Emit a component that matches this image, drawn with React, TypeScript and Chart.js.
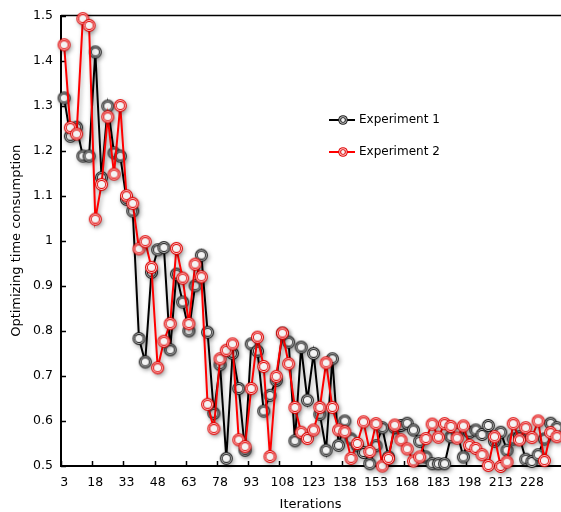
import React, { useEffect, useRef } from "react";
import { Chart, registerables } from "chart.js";

Chart.register(...registerables);

const iterations = [
  3, 6, 9, 12, 15, 18, 21, 24, 27, 30, 33, 36, 39, 42, 45, 48, 51, 54, 57, 60,
  63, 66, 69, 72, 75, 78, 81, 84, 87, 90, 93, 96, 99, 102, 105, 108, 111, 114, 117, 120,
  123, 126, 129, 132, 135, 138, 141, 144, 147, 150, 153, 156, 159, 162, 165, 168, 171, 174, 177, 180,
  183, 186, 189, 192, 195, 198, 201, 204, 207, 210, 213, 216, 219, 222, 225, 228, 231, 234, 237, 240,
];

const experiment1 = [
  1.317, 1.232, 1.252, 1.188, 1.188, 1.419, 1.14, 1.299, 1.195, 1.188,
  1.092, 1.066, 0.783, 0.731, 0.93, 0.98, 0.985, 0.758, 0.926, 0.864,
  0.8, 0.9, 0.968, 0.797, 0.617, 0.725, 0.517, 0.75, 0.672, 0.535,
  0.771, 0.755, 0.622, 0.657, 0.69, 0.795, 0.775, 0.556, 0.764, 0.646,
  0.75, 0.615, 0.535, 0.738, 0.546, 0.6, 0.56, 0.545, 0.53, 0.505,
  0.545, 0.585, 0.52, 0.585, 0.59, 0.595, 0.58, 0.555, 0.52, 0.505,
  0.505, 0.505, 0.565, 0.575, 0.52, 0.575, 0.58, 0.57, 0.59, 0.555,
  0.575, 0.535, 0.56, 0.565, 0.515, 0.51, 0.525, 0.56, 0.595, 0.585,
];

const experiment2 = [
  1.435, 1.251, 1.237, 1.493, 1.478, 1.048, 1.125, 1.275, 1.148, 1.3,
  1.1, 1.083, 0.982, 0.998, 0.941, 0.718, 0.777, 0.816, 0.983, 0.917,
  0.816, 0.948, 0.92, 0.637, 0.583, 0.738, 0.757, 0.771, 0.558, 0.543,
  0.672, 0.786, 0.721, 0.521, 0.699, 0.795, 0.727, 0.63, 0.575, 0.561,
  0.58, 0.63, 0.729, 0.63, 0.58, 0.576, 0.517, 0.55, 0.598, 0.532,
  0.594, 0.5, 0.517, 0.591, 0.558, 0.538, 0.511, 0.52, 0.561, 0.593,
  0.564, 0.594, 0.588, 0.562, 0.589, 0.546, 0.539, 0.525, 0.501, 0.565,
  0.499, 0.509, 0.594, 0.558, 0.585, 0.563, 0.6, 0.512, 0.574, 0.565,
];

const yTicks = [0.5, 0.6, 0.7, 0.8, 0.9, 1, 1.1, 1.2, 1.3, 1.4, 1.5];
const xLabelEvery = 5;
const seriesNames = ["Experiment 1", "Experiment 2"];
const xTitle = "Iterations";
const yTitle = "Optimizing time consumption";

const FONT = "'DejaVu Sans', Verdana, sans-serif";

function makeMarker(color: string, band: string, r: number) {
  const size = Math.ceil(r * 2 + 2);
  const c = document.createElement("canvas");
  c.width = size;
  c.height = size;
  const g = c.getContext("2d")!;
  const cx = size / 2;
  const circle = (rad: number, fill: string) => {
    g.beginPath();
    g.arc(cx, cx, rad, 0, Math.PI * 2);
    g.fillStyle = fill;
    g.fill();
  };
  circle(r, color);
  circle(r - 1.1, band);
  circle(r - 2.0, color);
  circle(r - 2.9, "#f4f4f4");
  return c;
}

export default function App() {
  const ref = useRef<HTMLCanvasElement | null>(null);

  useEffect(() => {
    const canvas = ref.current;
    if (!canvas) return;

    const blackMarker = makeMarker("#1a1a1a", "#c4c4c4", 6.5);
    const redMarker = makeMarker("#e00000", "#ffd0d0", 6.5);
    const blackLegend = makeMarker("#1a1a1a", "#c4c4c4", 4.8);
    const redLegend = makeMarker("#e00000", "#ffd0d0", 4.8);

    const shadowPlugin = {
      id: "shadowPlugin",
      beforeDatasetDraw(chart: any) {
        const ctx = chart.ctx;
        ctx.save();
        ctx.shadowColor = "rgba(0,0,0,0.35)";
        ctx.shadowBlur = 4;
        ctx.shadowOffsetX = 1.5;
        ctx.shadowOffsetY = 2;
      },
      afterDatasetDraw(chart: any) {
        chart.ctx.restore();
      },
    };

    const axisDecor = {
      id: "axisDecor",
      beforeDatasetsDraw(chart: any) {
        const { ctx, chartArea: a, scales } = chart;
        const x = scales.x;
        const y = scales.y;
        ctx.save();
        ctx.strokeStyle = "#000";
        ctx.lineWidth = 1.5;
        ctx.beginPath();
        ctx.moveTo(a.left, a.top);
        ctx.lineTo(a.right + 10, a.top);
        ctx.stroke();
        const half = (x.getPixelForValue(1) - x.getPixelForValue(0)) / 2;
        for (let i = 0; i < iterations.length; i += xLabelEvery) {
          const px = Math.round(x.getPixelForValue(i) - half) + 0.5;
          ctx.beginPath();
          ctx.moveTo(px, a.bottom);
          ctx.lineTo(px, a.bottom - 5);
          ctx.stroke();
        }
        for (const v of yTicks) {
          const py = Math.round(y.getPixelForValue(v)) + 0.5;
          ctx.beginPath();
          ctx.moveTo(a.left, py);
          ctx.lineTo(a.left + 5, py);
          ctx.stroke();
        }
        ctx.restore();
      },
    };

    const legendPlugin = {
      id: "customLegend",
      afterDraw(chart: any) {
        const ctx = chart.ctx;
        const items = [
          { name: seriesNames[0], color: "#000000", marker: blackLegend, y: 120 },
          { name: seriesNames[1], color: "#ff0000", marker: redLegend, y: 152 },
        ];
        ctx.save();
        for (const it of items) {
          ctx.strokeStyle = it.color;
          ctx.lineWidth = 2;
          ctx.beginPath();
          ctx.moveTo(329, it.y);
          ctx.lineTo(355, it.y);
          ctx.stroke();
          ctx.drawImage(
            it.marker,
            343 - it.marker.width / 2,
            it.y - it.marker.height / 2
          );
          ctx.fillStyle = "#000";
          ctx.font = `12px ${FONT}`;
          ctx.textBaseline = "middle";
          ctx.textAlign = "left";
          ctx.fillText(it.name, 359, it.y);
        }
        ctx.restore();
      },
    };

    const chart = new Chart(canvas, {
      type: "line",
      data: {
        labels: iterations.map(String),
        datasets: [
          {
            label: seriesNames[0],
            data: experiment1,
            borderColor: "#000000",
            backgroundColor: "#000000",
            borderWidth: 2,
            pointStyle: blackMarker as any,
            pointRadius: 6,
            pointHoverRadius: 6,
            order: 2,
            clip: false as any,
            tension: 0,
          },
          {
            label: seriesNames[1],
            data: experiment2,
            borderColor: "#ff0000",
            backgroundColor: "#ff0000",
            borderWidth: 2,
            pointStyle: redMarker as any,
            pointRadius: 6,
            pointHoverRadius: 6,
            order: 1,
            clip: false as any,
            tension: 0,
          },
        ],
      },
      options: {
        animation: false,
        responsive: false,
        events: [],
        layout: { padding: { top: 14, left: 0, right: 0, bottom: 0 } },
        plugins: {
          legend: { display: false },
          tooltip: { enabled: false },
        },
        scales: {
          x: {
            type: "category",
            offset: true,
            grid: { display: false, drawTicks: false, offset: true },
            border: { display: true, color: "#000", width: 2 },
            ticks: {
              autoSkip: false,
              maxRotation: 0,
              minRotation: 0,
              padding: 9,
              color: "#000",
              font: { family: FONT, size: 12.5 },
              callback: (_v: any, i: number) =>
                i % xLabelEvery === 0 ? String(iterations[i]) : "",
            },
            title: {
              display: true,
              text: xTitle,
              color: "#000",
              font: { family: FONT, size: 13 },
              padding: { top: 0, bottom: 0 },
            },
            afterFit: (s: any) => {
              s.height = 46;
            },
          },
          y: {
            type: "linear",
            min: 0.5,
            max: 1.5,
            afterBuildTicks: (s: any) => {
              s.ticks = yTicks.map((v) => ({ value: v }));
            },
            grid: { display: false, drawTicks: false },
            border: { display: true, color: "#000", width: 2 },
            ticks: {
              padding: 8,
              color: "#000",
              font: { family: FONT, size: 12.5 },
              callback: (v: any) => String(Math.round(Number(v) * 10) / 10),
            },
            title: {
              display: true,
              text: yTitle,
              color: "#000",
              font: { family: FONT, size: 13 },
              padding: { top: 9, bottom: 0 },
            },
            afterFit: (s: any) => {
              s.width = 61;
            },
          },
        },
      } as any,
      plugins: [shadowPlugin, axisDecor, legendPlugin],
    });

    return () => {
      chart.destroy();
    };
  }, []);

  return (
    <div
      style={{
        position: "fixed",
        left: 0,
        top: 0,
        width: 561,
        height: 512,
        overflow: "hidden",
        background: "#fff",
      }}
    >
      <canvas ref={ref} width={568} height={512} style={{ display: "block" }} />
    </div>
  );
}
